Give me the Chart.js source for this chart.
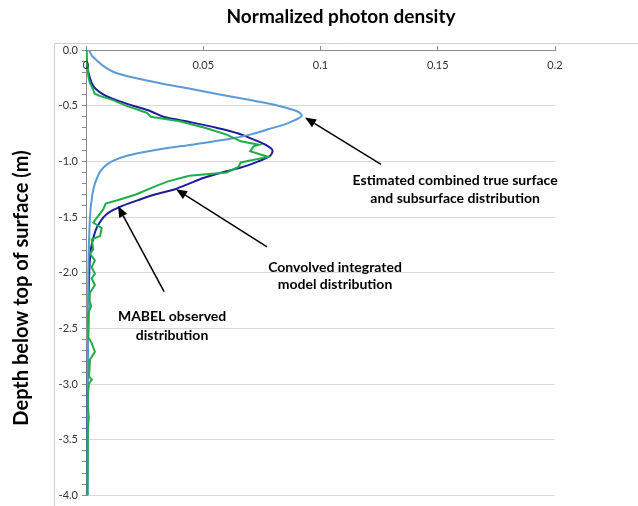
<!DOCTYPE html>
<html>
<head>
<meta charset="utf-8">
<script src="https://cdn.jsdelivr.net/npm/chart.js@4.4.1/dist/chart.umd.min.js"></script>
<style>
    html, body { margin: 0; padding: 0; background: #fff; }
    #wrap { width: 638px; height: 506px; }
</style>
</head>
<body>
<div id="wrap"><canvas id="photonChart" width="638" height="506"></canvas></div>
<script>
// profondita' (m, negativa sotto la superficie) e densita' normalizzata dei fotoni

// distribuzione stimata superficie + sottosuperficie (azzurro)
const trueDepth = [0, -0.05, -0.1, -0.15, -0.2, -0.25, -0.3, -0.35, -0.4, -0.45, -0.5, -0.55, -0.59,
    -0.63, -0.67, -0.71, -0.76, -0.8, -0.85, -0.9, -0.95, -1.0, -1.05, -1.1, -1.2, -1.3, -1.5, -2.0, -3.0, -4.0];
const trueDensity = [0.0013, 0.0025, 0.005, 0.0078, 0.012, 0.0205, 0.032, 0.045, 0.057, 0.070, 0.082, 0.090, 0.092,
    0.089, 0.0845, 0.078, 0.070, 0.061, 0.045, 0.029, 0.0175, 0.011, 0.0077, 0.0058, 0.0038, 0.0027, 0.0017, 0.001, 0.0008, 0.0006];

// modello integrato convoluto (blu scuro)
const modelDepth = [0, -0.1, -0.2, -0.3, -0.35, -0.4, -0.45, -0.5, -0.55, -0.6, -0.65, -0.7, -0.75, -0.8, -0.85,
    -0.9, -0.95, -1.0, -1.05, -1.1, -1.15, -1.2, -1.25, -1.3, -1.35, -1.4, -1.45, -1.5, -1.6, -1.7, -1.8, -2.0, -2.5, -3.0, -4.0];
const modelDensity = [0.0, 0.0003, 0.001, 0.0025, 0.0042, 0.0075, 0.013, 0.020, 0.0276, 0.033, 0.045, 0.056, 0.065, 0.071, 0.0765,
    0.0795, 0.0785, 0.0735, 0.067, 0.058, 0.050, 0.044, 0.038, 0.029, 0.022, 0.0155, 0.0105, 0.0075, 0.0045, 0.003, 0.002, 0.0014, 0.0009, 0.0007, 0.0005];

// MABEL osservato (verde)
const mabelDepth = [0, -0.05, -0.1, -0.15, -0.2, -0.25, -0.3, -0.35, -0.39, -0.41, -0.45, -0.5, -0.55, -0.565, -0.6,
    -0.64, -0.7, -0.76, -0.82, -0.85, -0.865, -0.91, -0.96, -1.01, -1.05, -1.1, -1.13, -1.18, -1.22, -1.3,
    -1.35, -1.38, -1.43, -1.5, -1.55, -1.6, -1.67, -1.7, -1.79, -1.83, -1.89, -1.95, -2.01, -2.05, -2.11,
    -2.18, -2.25, -2.3, -2.35, -2.45, -2.58, -2.63, -2.71, -2.78, -2.87, -2.93, -2.96, -3.0, -3.1, -3.2,
    -3.3, -3.4, -3.6, -3.8, -4.0];
const mabelDensity = [0, 0.0002, 0.0004, 0.0006, 0.0008, 0.0011, 0.0017, 0.003, 0.0036, 0.0055, 0.0115, 0.017, 0.024, 0.026, 0.0276,
    0.040, 0.051, 0.060, 0.066, 0.0738, 0.0715, 0.070, 0.0776, 0.066, 0.065, 0.060, 0.044, 0.035, 0.030, 0.021,
    0.0134, 0.0084, 0.0074, 0.0048, 0.0031, 0.0067, 0.006, 0.0024, 0.0031, 0.0017, 0.0038, 0.0024, 0.0038, 0.0024, 0.0038,
    0.0017, 0.0015, 0.0022, 0.0012, 0.001, 0.001, 0.0024, 0.0038, 0.0017, 0.0015, 0.0012, 0.0025, 0.0012, 0.0008, 0.0008,
    0.0012, 0.0008, 0.0008, 0.0006, 0.0006];

// etichette degli assi
const densityTicks = [0, 0.05, 0.1, 0.15, 0.2];
const depthMin = -4.0;
const depthMax = 0.0;

const chartTitle = 'Normalized photon density';
const depthTitle = 'Depth below top of surface (m)';

// testi e frecce in coordinate dei dati
const notes = [
    { lines: ['Estimated combined true surface', 'and subsurface distribution'], x: 0.1574, y: [-1.17, -1.335] },
    { lines: ['Convolved integrated', 'model distribution'], x: 0.1062, y: [-1.95, -2.11] },
    { lines: ['MABEL observed', 'distribution'], x: 0.0367, y: [-2.39, -2.56] }
];
const arrows = [
    { from: { x: 0.1258, y: -1.027 }, to: { x: 0.0934, y: -0.607 } },
    { from: { x: 0.0772, y: -1.768 }, to: { x: 0.0384, y: -1.25 } },
    { from: { x: 0.0333, y: -2.17 }, to: { x: 0.01365, y: -1.402 } }
];

function toPoints(xs, ys) {
    if (xs.length !== ys.length) {
        console.error("x e y devono contenere lo stesso numero di elementi", xs, ys);
    }
    return xs.map((v, i) => ({ x: v, y: ys[i] }));
}

function isHalf(v) {
    return Math.abs(v * 2 - Math.round(v * 2)) < 1e-6;
}

const decorations = {
    id: 'decorations',
    beforeDraw(chart) {
        const ctx = chart.ctx;
        ctx.save();
        ctx.strokeStyle = '#d0d0d0';
        ctx.lineWidth = 1;
        ctx.beginPath();
        ctx.moveTo(54.5, 520);
        ctx.lineTo(54.5, 43.5);
        ctx.lineTo(640, 43.5);
        ctx.stroke();
        ctx.restore();
    },
    afterDraw(chart) {
        const { ctx, scales } = chart;
        const xs = scales.x, ys = scales.y;
        ctx.save();
        ctx.textAlign = 'center';
        ctx.textBaseline = 'middle';

        // etichette dell'asse x, sotto la linea dell'asse
        ctx.fillStyle = '#333';
        ctx.font = '11px Lato';
        xs.ticks.forEach(t => {
            ctx.fillText(String(parseFloat(t.value.toFixed(2))), xs.getPixelForValue(t.value), xs.bottom + 15);
        });

        ctx.fillStyle = '#000';
        ctx.font = 'bold 19px Lato';
        ctx.fillText(chartTitle, 341, 17);

        ctx.save();
        ctx.translate(22, 288);
        ctx.rotate(-Math.PI / 2);
        ctx.font = 'bold 20px Lato';
        ctx.fillText(depthTitle, 0, 0);
        ctx.restore();

        ctx.font = 'bold 14px Lato';
        notes.forEach(n => {
            n.lines.forEach((t, i) => {
                ctx.fillText(t, xs.getPixelForValue(n.x), ys.getPixelForValue(n.y[i]));
            });
        });

        ctx.strokeStyle = '#000';
        ctx.lineWidth = 1.5;
        arrows.forEach(a => {
            const x1 = xs.getPixelForValue(a.from.x), y1 = ys.getPixelForValue(a.from.y);
            const x2 = xs.getPixelForValue(a.to.x), y2 = ys.getPixelForValue(a.to.y);
            const ang = Math.atan2(y2 - y1, x2 - x1);
            const len = 11, half = 4.5;
            const bx = x2 - len * Math.cos(ang), by = y2 - len * Math.sin(ang);
            ctx.beginPath();
            ctx.moveTo(x1, y1);
            ctx.lineTo(bx, by);
            ctx.stroke();
            ctx.beginPath();
            ctx.moveTo(x2, y2);
            ctx.lineTo(bx + half * Math.sin(ang), by - half * Math.cos(ang));
            ctx.lineTo(bx - half * Math.sin(ang), by + half * Math.cos(ang));
            ctx.closePath();
            ctx.fill();
        });
        ctx.restore();
    }
};

new Chart(
    document.getElementById('photonChart'),
    {
        type: 'scatter',
        data: {
            datasets: [
                {
                    label: 'MABEL observed distribution',
                    data: toPoints(mabelDensity, mabelDepth),
                    borderColor: '#22ab4a',
                    borderWidth: 2,
                    showLine: true,
                    pointRadius: 0,
                    tension: 0
                },
                {
                    label: 'Estimated combined true surface and subsurface distribution',
                    data: toPoints(trueDensity, trueDepth),
                    borderColor: '#5b9bd5',
                    borderWidth: 2,
                    showLine: true,
                    pointRadius: 0,
                    tension: 0.3
                },
                {
                    label: 'Convolved integrated model distribution',
                    data: toPoints(modelDensity, modelDepth),
                    borderColor: '#1c1c9c',
                    borderWidth: 2,
                    showLine: true,
                    pointRadius: 0,
                    tension: 0.3
                }
            ]
        },
        options: {
            responsive: false,
            animation: false,
            layout: { padding: { left: 0, right: 83, top: 0, bottom: 8 } },
            plugins: {
                legend: { display: false },
                tooltip: { enabled: false },
                title: { display: false }
            },
            scales: {
                x: {
                    type: 'linear',
                    position: 'top',
                    min: densityTicks[0],
                    max: densityTicks[densityTicks.length - 1],
                    afterBuildTicks: s => { s.ticks = densityTicks.map(v => ({ value: v })); },
                    afterFit: s => { s.height = 50; },
                    border: { display: true, color: '#8c8c8c', width: 1 },
                    grid: { drawOnChartArea: false, drawTicks: true, tickLength: 4, tickColor: '#8c8c8c' },
                    ticks: { display: false }
                },
                y: {
                    type: 'linear',
                    min: depthMin,
                    max: depthMax,
                    afterFit: s => { s.width = 86; },
                    border: { display: true, color: '#8c8c8c', width: 1 },
                    grid: {
                        color: c => (c.tick && isHalf(c.tick.value) && c.tick.value !== 0) ? '#d9d9d9' : 'rgba(0,0,0,0)',
                        tickColor: '#8c8c8c',
                        tickLength: 4,
                        drawTicks: true
                    },
                    ticks: {
                        stepSize: 0.1,
                        autoSkip: false,
                        padding: 4,
                        color: '#333',
                        font: { family: 'Lato', size: 11 },
                        callback: v => isHalf(v) ? Number(v).toFixed(1) : ''
                    }
                }
            }
        },
        plugins: [decorations]
    }
);
</script>
</body>
</html>
